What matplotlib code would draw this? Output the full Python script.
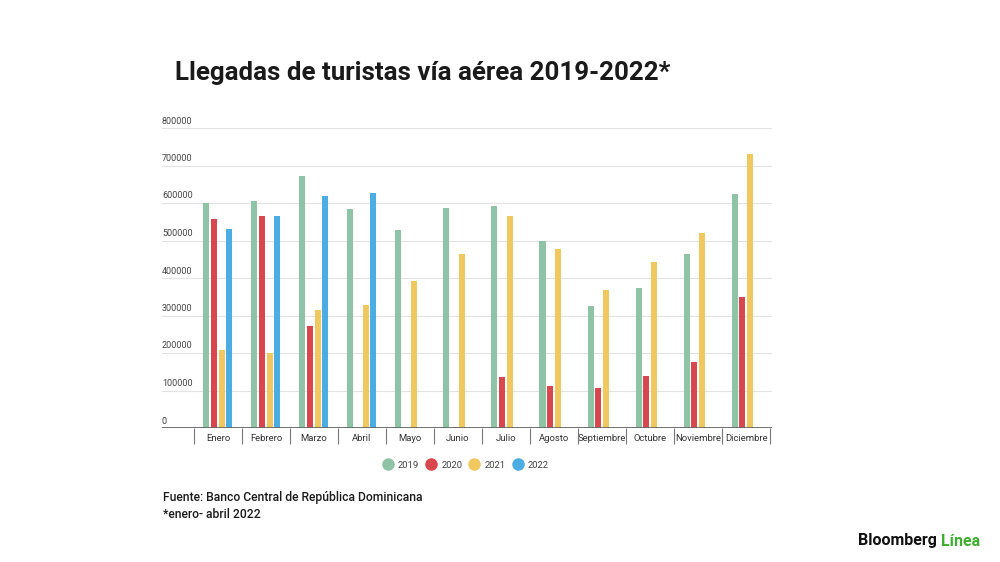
import matplotlib
matplotlib.use('Agg')
import matplotlib.pyplot as plt
import numpy as np
from matplotlib.lines import Line2D
from matplotlib.transforms import offset_copy

plt.rcParams['font.family'] = ['Roboto', 'DejaVu Sans']

months = ['Enero', 'Febrero', 'Marzo', 'Abril', 'Mayo', 'Junio', 'Julio',
          'Agosto', 'Septiembre', 'Octubre', 'Noviembre', 'Diciembre']
years = ['2019', '2020', '2021', '2022']

llegadas_2019 = [599000, 605000, 673000, 585000, 529000, 588000,
                 592000, 499000, 325000, 373000, 463000, 625000]
llegadas_2020 = [558000, 565000, 271000, None, None, 2500,
                 137000, 112000, 106000, 140000, 177000, 350000]
llegadas_2021 = [207000, 201000, 315000, 329000, 392000, 463000,
                 565000, 478000, 367000, 444000, 521000, 730000]
llegadas_2022 = [531000, 566000, 619000, 627000, None, None,
                 None, None, None, None, None, None]

y_ticks = [0, 100000, 200000, 300000, 400000, 500000, 600000, 700000, 800000]

colors = {'2019': '#8fc3a6', '2020': '#d9474e', '2021': '#efc860', '2022': '#4bade2'}
series = [llegadas_2019, llegadas_2020, llegadas_2021, llegadas_2022]

fig = plt.figure(figsize=(10, 5.62), dpi=100)
ax = fig.add_axes([0.162, 1 - 428 / 562, 0.61, 300 / 562])

x = np.arange(len(months))
slot = 0.16
width = 0.125
for i, (yr, vals) in enumerate(zip(years, series)):
    v = np.array([np.nan if a is None else a for a in vals], dtype=float)
    ax.bar(x + (i - 1.5) * slot, v, width=width, color=colors[yr], zorder=3)

ax.set_xlim(-1.165, 11.54)
ax.set_ylim(0, 800000)

# grid lines and labels sitting above them
for t in y_ticks[1:]:
    ax.axhline(t, color='#e3e3e3', linewidth=0.8, zorder=1)
lab_tr = offset_copy(ax.get_yaxis_transform(), fig=fig, x=0, y=2.5, units='dots')
for t in y_ticks:
    ax.text(0.0, t, str(t), transform=lab_tr, ha='left', va='bottom',
            fontsize=6.5, color='#444444')
ax.axhline(0, color='#666666', linewidth=1.3, zorder=4)

for s in ax.spines.values():
    s.set_visible(False)
ax.set_yticks([])
ax.set_xticks(x)
ax.set_xticklabels(months, fontsize=6.8, color='#333333')
ax.set_xticks(np.arange(-0.5, 12, 1), minor=True)
ax.tick_params(axis='x', which='major', length=0, pad=4)
ax.tick_params(axis='x', which='minor', length=11.5, width=0.8, color='#777777', direction='out')

handles = [Line2D([0], [0], marker='o', linestyle='', markersize=8,
                  markerfacecolor=colors[yr], markeredgecolor=colors[yr]) for yr in years]
fig.legend(handles, years, loc='center', bbox_to_anchor=(0.466, 1 - 465 / 562), ncol=4,
           frameon=False, fontsize=6.8, handlelength=1.0, handletextpad=0.6,
           columnspacing=0.75, labelcolor='#444444')

fig.text(0.175, 1 - 73 / 562, 'Llegadas de turistas vía aérea 2019-2022*', fontsize=18.6,
         fontweight='bold', color='#1a1a1a', ha='left', va='center')
fig.text(0.163, 1 - 497 / 562, 'Fuente: Banco Central de República Dominicana', fontsize=8.7,
         fontweight='medium', color='#1a1a1a', ha='left', va='center')
fig.text(0.163, 1 - 515 / 562, '*enero- abril 2022', fontsize=8.7,
         fontweight='medium', color='#1a1a1a', ha='left', va='center')

t1 = fig.text(0.858, 1 - 541 / 562, 'Bloomberg', fontsize=11.5, fontweight='bold',
              color='#111111', ha='left', va='center')
renderer = fig.canvas.get_renderer()
bb = t1.get_window_extent(renderer)
fig.text((bb.x1 + 4) / fig.bbox.width, 1 - 541 / 562, 'Línea', fontsize=11.5, fontweight='bold',
         color='#3fae2f', ha='left', va='center')

fig.savefig('out.png', dpi=100, facecolor='white')
